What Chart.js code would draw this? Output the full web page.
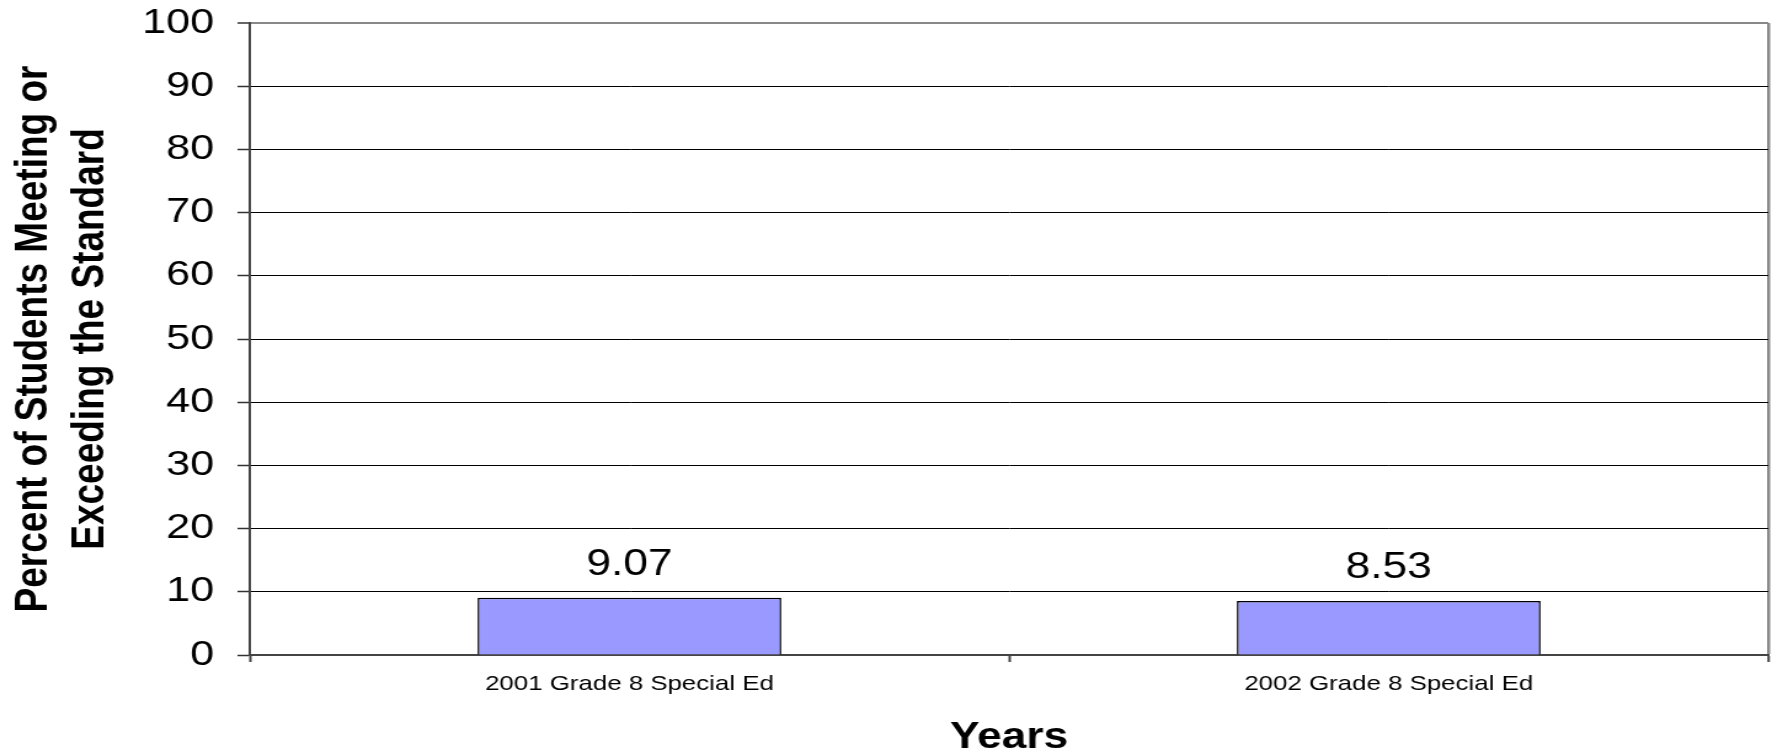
<!DOCTYPE html>
<html>
<head>
<meta charset="utf-8">
<script src="https://cdn.jsdelivr.net/npm/chart.js@4"></script>
<style>
  html, body { margin: 0; padding: 0; background: #fff; }
</style>
</head>
<body>
<!-- the original is stretched sideways, so the canvas is drawn narrower and widened by css -->
<canvas id="grafico" width="1440" height="753" style="display:block;width:1772px;height:753px"></canvas>
<script>
const categorias = ['2001 Grade 8 Special Ed', '2002 Grade 8 Special Ed'];
const valores = [9.07, 8.53];
const yMin = 0;
const yMax = 100;
const yPasso = 10;
const tituloY = ['Percent of Students Meeting or', 'Exceeding the Standard'];
const tituloX = 'Years';

const fonte = "'Liberation Sans', Arial, sans-serif";

// escreve o valor em cima de cada barra
const rotulosValores = {
  id: 'rotulosValores',
  afterDatasetsDraw(chart) {
    const ctx = chart.ctx;
    const meta = chart.getDatasetMeta(0);
    ctx.save();
    ctx.font = `36px ${fonte}`;
    ctx.fillStyle = '#000';
    ctx.textAlign = 'center';
    ctx.textBaseline = 'alphabetic';
    meta.data.forEach((barra, i) => {
      ctx.fillText(valores[i].toFixed(2), barra.x, barra.y - 23);
    });
    ctx.restore();
  }
};

new Chart(document.getElementById('grafico'), {
  type: 'bar',
  data: {
    labels: categorias,
    datasets: [{
      data: valores,
      backgroundColor: '#9999FF',
      borderColor: '#000',
      borderWidth: 1.5,
      barPercentage: 0.4,
      categoryPercentage: 1
    }]
  },
  options: {
    responsive: false,
    animation: false,
    layout: { padding: { top: 23, right: 3, left: 0, bottom: 0 } },
    plugins: {
      legend: { display: false },
      tooltip: { enabled: false }
    },
    scales: {
      x: {
        grid: {
          offset: true,
          // so a borda da direita aparece
          color: c => c.index === undefined ? '#888' : 'rgba(0,0,0,0)',
          lineWidth: c => c.index === undefined ? 2.5 : 1,
          tickLength: 7,
          tickColor: '#444',
          tickWidth: 2
        },
        border: { color: '#444', width: 2 },
        ticks: { color: '#000', font: { family: fonte, size: 21 }, padding: 10, maxRotation: 0 },
        title: {
          display: true,
          text: tituloX,
          color: '#000',
          font: { family: fonte, size: 36, weight: 'bold', lineHeight: 0.85 },
          padding: 0
        },
        afterFit: s => { s.height = 98; }
      },
      y: {
        min: yMin,
        max: yMax,
        ticks: { stepSize: yPasso, color: '#000', font: { family: fonte, size: 35 }, padding: 19 },
        grid: {
          color: c => c.tick && c.tick.value === yMax ? '#888' : '#000',
          lineWidth: c => c.tick && c.tick.value === yMax ? 2 : 1,
          tickLength: 10,
          tickColor: '#333',
          tickWidth: 1.5
        },
        border: { color: '#444', width: 2 },
        title: {
          display: true,
          text: tituloY,
          color: '#000',
          font: { family: fonte, size: 37, weight: 'bold', lineHeight: 1.24 },
          padding: { top: 5, bottom: 0 }
        },
        afterFit: s => {
          s.width = 203;
          // o topo da area fica so com o padding do layout
          s.paddingTop = 0;
          s.paddingBottom = 0;
        }
      }
    }
  },
  plugins: [rotulosValores]
});
</script>
</body>
</html>
